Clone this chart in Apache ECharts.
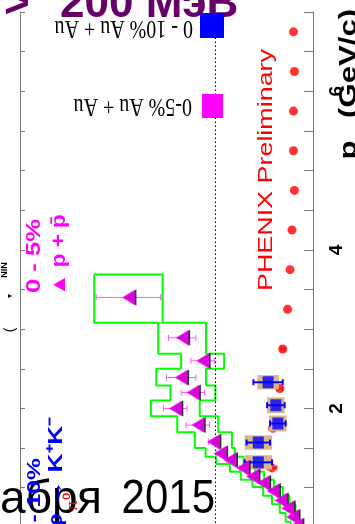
<!DOCTYPE html>
<html><head><meta charset="utf-8">
<script src="https://cdn.jsdelivr.net/npm/echarts@6/dist/echarts.min.js"></script>
<style>html,body{margin:0;padding:0;background:#fff;overflow:hidden}#c{width:355px;height:524px;}</style>
</head><body><div id="c"></div>
<script>
// pT axis tick labels
const ptTickLabels = ['2', '4', '6'];
// pi0 0-10% (red)
const pi0PT  = [6.75, 6.25, 5.75, 5.25, 4.75, 4.25, 3.75, 3.25, 2.75, 2.25, 1.75, 1.25];
const pi0R   = [0.20, 0.19, 0.20, 0.20, 0.19, 0.215, 0.235, 0.26, 0.31, 0.34, 0.41, 0.42];
const pi0Err = [0, 0, 0, 0, 0, 0, 0, 0, 0.02, 0.03, 0.04, 0.05];
// phi -> K+K- 0-10% (blue)
const phiPT     = [2.33, 2.04, 1.81, 1.57, 1.32];
const phiR      = [0.46, 0.38, 0.36, 0.56, 0.56];
const phiErr    = [0.15, 0.09, 0.08, 0.12, 0.14];
const phiSysR   = [0.11, 0.09, 0.09, 0.14, 0.14];
const phiSysPT  = [0.09, 0.10, 0.10, 0.09, 0.09];
// p + pbar 0-5% (magenta)
const pPT    = [3.40, 2.89, 2.60, 2.39, 2.20, 2.00, 1.79, 1.58, 1.43, 1.35, 1.25, 1.14, 1.06, 0.96, 0.84, 0.74, 0.63, 0.52];
const pR     = [1.89, 1.34, 1.13, 1.35, 1.23, 1.41, 1.18, 1.02, 0.95, 0.85, 0.72, 0.62, 0.51, 0.41, 0.33, 0.26, 0.21, 0.17];
const pErr   = [0.33, 0.14, 0.12, 0.15, 0.12, 0.12, 0.12, 0.05, 0.04, 0.03, 0.03, 0.02, 0.02, 0.02, 0.01, 0.01, 0.01, 0.01];
const pSysR  = [0.35, 0.245, 0.22, 0.255, 0.23, 0.25, 0.21, 0.19, 0.15, 0.14, 0.13, 0.12, 0.11, 0.10, 0.09, 0.08, 0.07, 0.06];
// pT bin edges of the p + pbar systematic band (upper edge of bin i, then lower edge of last bin)
const pEdges = [3.69, 3.08, 2.69, 2.50, 2.29, 2.10, 1.90, 1.70, 1.50, 1.39, 1.30, 1.20, 1.10, 1.01, 0.90, 0.79, 0.68, 0.57, 0.46];

const SANS = '"Liberation Sans", Arial, sans-serif';
const SERIF = '"Liberation Serif", "Times New Roman", serif';

function errRender(color, lw, cap) {
  return function (params, api) {
    const r = api.value(0), pt = api.value(1), e = api.value(2);
    if (!e) return null;
    const a = api.coord([r - e, pt]), b = api.coord([r + e, pt]);
    const st = { stroke: color, lineWidth: lw };
    return { type: 'group', children: [
      { type: 'line', shape: { x1: a[0], y1: a[1], x2: b[0], y2: b[1] }, style: st },
      { type: 'line', shape: { x1: a[0], y1: a[1] - cap, x2: a[0], y2: a[1] + cap }, style: st },
      { type: 'line', shape: { x1: b[0], y1: b[1] - cap, x2: b[0], y2: b[1] + cap }, style: st }
    ]};
  };
}
function boxRender(stroke, fill, lw) {
  return function (params, api) {
    const r = api.value(0), pt = api.value(1), dr = api.value(2), dp = api.value(3);
    const p1 = api.coord([r + dr, pt + dp]), p2 = api.coord([r - dr, pt - dp]);
    return { type: 'rect',
      shape: { x: Math.min(p1[0], p2[0]), y: Math.min(p1[1], p2[1]),
               width: Math.abs(p2[0] - p1[0]), height: Math.abs(p2[1] - p1[1]) },
      style: { fill: fill, stroke: stroke, lineWidth: lw } };
  };
}

const pi0Data = pi0PT.map((p, i) => [pi0R[i], p]);
const pi0ErrData = pi0PT.map((p, i) => [pi0R[i], p, pi0Err[i]]);
const phiData = phiPT.map((p, i) => [phiR[i], p]);
const phiErrData = phiPT.map((p, i) => [phiR[i], p, phiErr[i]]);
const phiSysData = phiPT.map((p, i) => [phiR[i], p, phiSysR[i], phiSysPT[i]]);
const pData = pPT.map((p, i) => [pR[i], p]);
const pErrData = pPT.map((p, i) => [pR[i], p, pErr[i]]);
// systematic band outline (stepped polygon)
const bandUpper = [], bandLower = [];
pPT.forEach((p, i) => {
  bandUpper.push([pR[i] + pSysR[i], pEdges[i]], [pR[i] + pSysR[i], pEdges[i + 1]]);
  bandLower.push([pR[i] - pSysR[i], pEdges[i]], [pR[i] - pSysR[i], pEdges[i + 1]]);
});
const bandData = bandUpper.concat(bandLower.slice().reverse());
bandData.push(bandData[0]);

const chart = echarts.init(document.getElementById('c'), null, { renderer: 'canvas' });
const axisGray = '#7a7a7a';

function rtext(x, y, text, font, color, rot, align, sx, sy) {
  return { type: 'text', x: x, y: y, rotation: rot, scaleX: sx || 1, scaleY: sy || 1, z: 100,
    style: { text: text, x: 0, y: 0, font: font, fill: color, align: align || 'center', verticalAlign: 'middle' } };
}

chart.setOption({
  animation: false,
  backgroundColor: '#fff',
  grid: { left: 20, top: 12, width: 293, height: 555, containLabel: false, outerBoundsMode: 'none' },
  xAxis: {
    type: 'value', min: 0, max: 3, interval: 1, inverse: true, position: 'top',
    axisLine: { show: true, lineStyle: { color: axisGray, width: 1 } },
    axisTick: { show: true, inside: true, length: 7, lineStyle: { color: axisGray } },
    minorTick: { show: true, splitNumber: 5, length: 5, lineStyle: { color: axisGray } },
    axisLabel: { show: false }, splitLine: { show: false }
  },
  yAxis: [{
    type: 'value', min: 0, max: 7, interval: 0.5, position: 'right',
    axisLine: { show: true, lineStyle: { color: axisGray, width: 1 } },
    axisTick: { show: true, inside: true, length: 9, lineStyle: { color: axisGray } },
    axisLabel: { show: true, rotate: 90, margin: 14, fontSize: 19, fontWeight: 'bold', color: '#000', fontFamily: SANS,
      formatter: v => ptTickLabels.includes(String(v)) ? String(v) : '' },
    splitLine: { show: false }
  }, {
    type: 'value', min: 0, max: 7, interval: 0.5, position: 'left',
    axisLine: { show: true, lineStyle: { color: axisGray, width: 1 } },
    axisTick: { show: true, inside: true, length: 5, lineStyle: { color: axisGray } },
    axisLabel: { show: false }, splitLine: { show: false }
  }],
  series: [
    { type: 'scatter', data: pi0Data, symbol: 'circle', symbolSize: 9, z: 2,
      itemStyle: { color: '#ff0000' },
      markLine: { silent: true, symbol: 'none', label: { show: false },
        lineStyle: { color: '#000', width: 1, type: [1.5, 2.5] }, data: [{ xAxis: 1 }] } },
    { type: 'custom', data: pi0ErrData, encode: { x: 0, y: 1 }, renderItem: errRender('#ff0000', 1, 2.5), z: 2 },
    { type: 'line', data: bandData, symbol: 'none', showSymbol: false, z: 3,
      lineStyle: { color: '#00ff00', width: 2 } },
    { type: 'custom', data: phiSysData, encode: { x: 0, y: 1 }, renderItem: boxRender('none', '#d9b68c', 0), z: 4 },
    { type: 'custom', data: phiErrData, encode: { x: 0, y: 1 }, renderItem: errRender('#0000ff', 2, 3), z: 5 },
    { type: 'scatter', data: phiData, symbol: 'rect', symbolSize: [11, 12], z: 6, itemStyle: { color: '#0000ff' } },
    { type: 'custom', data: pErrData, encode: { x: 0, y: 1 }, renderItem: errRender('#ff55ff', 1, 3), z: 7 },
    { type: 'scatter', data: pData, symbol: 'triangle', symbolSize: [16, 13], symbolRotate: 90, symbolOffset: [1.5, 0], z: 8,
      itemStyle: { color: '#000' } },
    { type: 'scatter', data: pData, symbol: 'triangle', symbolSize: [16, 13], symbolRotate: 90, z: 9,
      itemStyle: { color: '#ff00ff' } }
  ],
  graphic: [
    // slide texts (under the plot annotations)
    { type: 'text', x: 4, y: 5, z: 90, style: { text: '>', font: 'bold 44px ' + SANS, fill: '#660066', align: 'left', verticalAlign: 'middle' } },
    { type: 'text', x: 60, y: 5, z: 90, style: { text: '200 \u041C\u044D\u0412', font: 'bold 44px ' + SANS, fill: '#660066', align: 'left', verticalAlign: 'middle' } },
    { type: 'text', x: 102, y: 500, z: 90, style: { text: '\u0430\u0431\u0440\u044F', font: '46px ' + SANS, fill: '#000', align: 'right', verticalAlign: 'middle' } },
    { type: 'text', x: 215, y: 500, scaleY: 1.15, z: 90, style: { text: '2015', font: '42px ' + SANS, fill: '#000', align: 'right', verticalAlign: 'middle' } },
    // legend
    { type: 'rect', shape: { x: 200, y: 13, width: 24, height: 25 }, style: { fill: '#0000ff' }, z: 100 },
    rtext(193, 28, '0 - 10% Au + Au', '20px ' + SERIF, '#000', Math.PI, 'left', 1, 1.3),
    { type: 'rect', shape: { x: 202, y: 94, width: 21, height: 24 }, style: { fill: '#ff00ff' }, z: 100 },
    rtext(192, 106, '0-5% Au + Au', '20px ' + SERIF, '#000', Math.PI, 'left', 1, 1.3),
    // annotations
    rtext(266, 170, 'PHENIX Preliminary', '21px ' + SANS, '#ff0000', Math.PI / 2, 'center', 1.28, 1),
    rtext(34, 256, '0 - 5%', 'bold 20px ' + SANS, '#ff00ff', Math.PI / 2, 'center', 1.28, 1),
    rtext(59, 255, '\u25B2 p + p\u0304', 'bold 20px ' + SANS, '#ff00ff', Math.PI / 2, 'center', 1.12, 1),
    rtext(35, 458, '0 - 10%', 'bold 19px ' + SANS, '#0000ff', Math.PI / 2, 'right', 1.3, 1),
    rtext(56, 417, '\u03C6 \u2192 K\u207AK\u207B', 'bold 21px ' + SANS, '#0000ff', Math.PI / 2, 'right', 1.25, 1),
    rtext(73, 502, '\u03C0\u2070', '17px ' + SERIF, '#ff0000', Math.PI / 2, 'center', 1.2, 1),
    // axis title
    rtext(349, 150, 'p', 'bold 24px ' + SANS, '#000', Math.PI / 2, 'center', 1.3, 1),
    rtext(349, 118, '(GeV/c)', 'bold 24px ' + SANS, '#000', Math.PI / 2, 'left', 1.3, 1),
    // cut-off fragments at left edge
    rtext(5, 270, 'NIN', 'bold 9px ' + SANS, '#000', Math.PI / 2),
    rtext(10, 296, '\u25BC', 'bold 7px ' + SANS, '#000', Math.PI / 2),
    rtext(10, 330, '(', '14px ' + SANS, '#000', Math.PI / 2)
  ]
});
</script></body></html>
